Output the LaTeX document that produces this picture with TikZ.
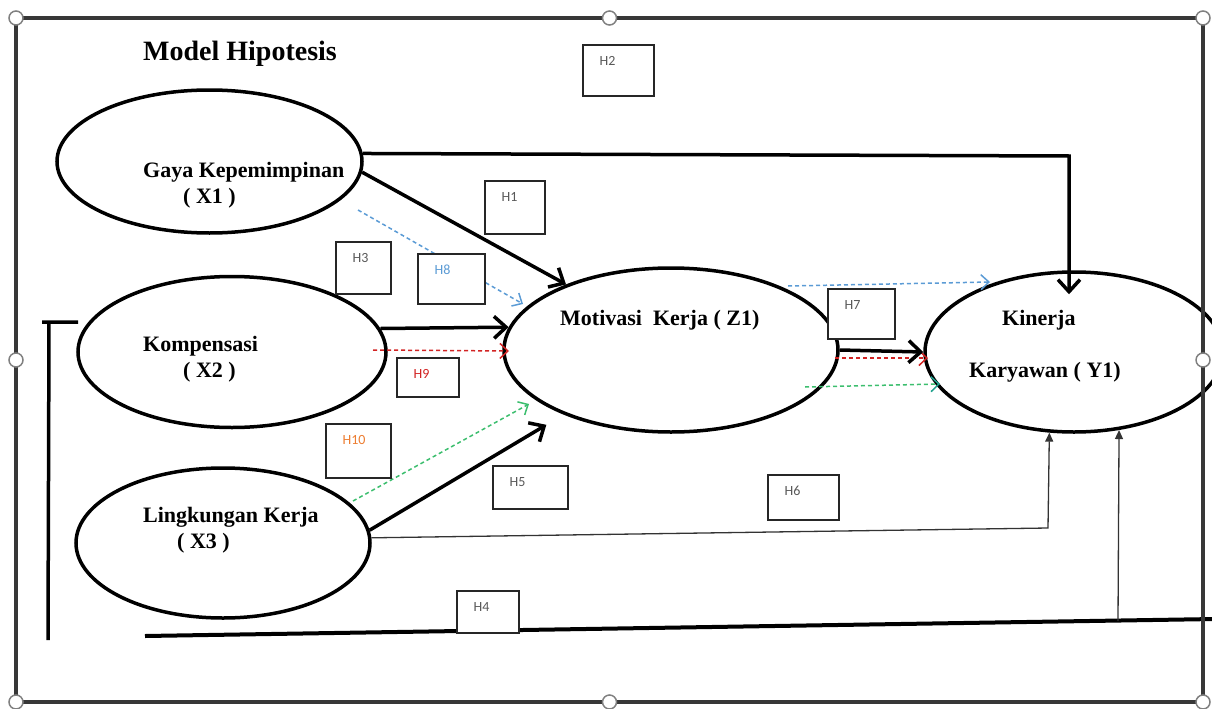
\documentclass[tikz,border=0pt]{standalone}
\usepackage{fontspec}
\setmainfont{Liberation Serif}
\newfontfamily\hypfont{Carlito}
\usetikzlibrary{positioning,calc,shapes.geometric,arrows.meta}
\definecolor{hypgray}{RGB}{89,89,89}
\definecolor{hypblue}{RGB}{91,155,213}
\definecolor{hypred}{RGB}{210,35,35}
\definecolor{hypgreen}{RGB}{60,190,110}
\definecolor{hypteal}{RGB}{30,160,140}
\definecolor{hyporange}{RGB}{237,125,49}
\definecolor{selgray}{RGB}{55,55,55}

\begin{document}
\begin{tikzpicture}[
  x=1pt, y=-1pt,
  latent/.style={draw, ellipse, line width=3.5pt, inner sep=0pt},
  vartext/.style={font=\fontsize{22}{26}\selectfont\bfseries, inner sep=0pt, anchor=base west},
  hyp/.style={draw=black!85, fill=white, line width=1.3pt, inner sep=0pt},
  hyptext/.style={font=\hypfont\fontsize{14}{16}\selectfont, text=hypgray, inner sep=0pt, anchor=base west},
  bold arrow/.style={line width=3.5pt, -{Straight Barb[length=12pt,width=22pt]}},
  thin arrow/.style={line width=1.3pt, draw=black!80, -{Triangle[length=9pt,width=8pt]}},
  dash arrow/.style={line width=1.5pt, dash pattern=on 4pt off 3pt, -{Straight Barb[length=8pt,width=15pt]}},
  selframe/.style={draw=selgray, line width=3.5pt, inner sep=0pt, outer sep=0pt},
  handle/.style={circle, draw=gray, fill=white, line width=1.5pt, minimum size=14pt, inner sep=0pt}
]
\useasboundingbox (0,0) rectangle (1212,709);

% variables
\node[latent, minimum width=305pt, minimum height=143pt] (x1) at (209.5,161.5) {};
\node[latent, minimum width=308pt, minimum height=151pt] (x2) at (232,352) {};
\node[latent, minimum width=294pt, minimum height=150pt] (x3) at (223,543) {};
\node[latent, minimum width=334pt, minimum height=164pt] (z1) at (671,350) {};
\node[latent, minimum width=298pt, minimum height=160pt] (y1) at (1074,352) {};

\node[vartext, font=\fontsize{28}{32}\selectfont\bfseries] (title) at (143,60) {Model Hipotesis};
\node[vartext] (x1name) at (143,177) {Gaya Kepemimpinan};
\node[vartext] (x1code) at (183,203) {( X1 )};
\node[vartext] (x2name) at (143,351) {Kompensasi};
\node[vartext] (x2code) at (183,377) {( X2 )};
\node[vartext] (x3name) at (143,522) {Lingkungan Kerja};
\node[vartext] (x3code) at (177,548) {( X3 )};
\node[vartext] (z1name) at (560,325) {Motivasi\ \ Kerja ( Z1)};
\node[vartext] (y1name) at (1002,325) {Kinerja};
\node[vartext] (y1code) at (969,377) {Karyawan ( Y1)};

% mediated paths (dashed)
\coordinate (blueA) at (358,210);
\coordinate (blueB) at (523,304);
\coordinate (redA) at (373,350);
\coordinate (redB) at (509,351);
\coordinate (greenA) at (353,501);
\coordinate (greenB) at (529,404);
\coordinate (blueC) at (788,286);
\coordinate (blueD) at (990,282);
\coordinate (redC) at (835,358);
\coordinate (redD) at (928,358);
\coordinate (tealA) at (805,387);
\coordinate (tealB) at (940,384);
\draw[dash arrow, hypblue] (blueA) -- (blueB);
\draw[dash arrow, hypred] (redA) -- (redB);
\draw[dash arrow, hypgreen] (greenA) -- (greenB);
\draw[dash arrow, hypblue] (blueC) -- (blueD);
\draw[dash arrow, hypred] (redC) -- (redD);
\draw[dash arrow, hypgreen, -{Straight Barb[length=8pt,width=15pt,color=hypteal]}] (tealA) -- (tealB);

% direct paths
\coordinate (topbend) at (1069,156);
\draw[bold arrow] (x1.3) -- (topbend) -- ($(topbend |- y1.north)+(0,24)$);
\draw[bold arrow] (x1.-4) -- (z1.148);
\draw[bold arrow] (x2.9) -- (z1.172);
\draw[bold arrow, shorten >=20pt] (x3.5) -- (z1.211);
\draw[bold arrow] (z1.east) -- (y1.west);

\coordinate (lowbend) at (1048,528);
\draw[thin arrow] (x3.2) -- (lowbend) -- (y1.253);

\coordinate (baseL) at (145,636);
\coordinate (baseR) at (1215,619);
\coordinate (baseUp) at (1118,621);
\draw[line width=4pt] (baseL) -- (baseR);
\draw[thin arrow] (baseUp) -- (y1.-60);

\coordinate (brkB) at (48,640);
\coordinate (brkT) at (49,322);
\coordinate (brkL) at (42,322);
\coordinate (brkR) at (78,322);
\draw[line width=3.5pt] (brkB) -- (brkT) (brkL) -- (brkR);

% hypothesis boxes
\node[hyp, minimum width=71pt, minimum height=51pt] (h2) at (618.5,70.5) {};
\node[hyp, minimum width=60pt, minimum height=53pt] (h1) at (515,207.5) {};
\node[hyp, minimum width=55pt, minimum height=52pt] (h3) at (363.5,268) {};
\node[hyp, minimum width=67pt, minimum height=50pt] (h8) at (451.5,279) {};
\node[hyp, minimum width=62pt, minimum height=39pt] (h9) at (428,377.5) {};
\node[hyp, minimum width=65pt, minimum height=54pt] (h10) at (358.5,451) {};
\node[hyp, minimum width=75pt, minimum height=43pt] (h5) at (530.5,487.5) {};
\node[hyp, minimum width=71pt, minimum height=45pt] (h6) at (803.5,497.5) {};
\node[hyp, minimum width=67pt, minimum height=50pt] (h7) at (861.5,314) {};
\node[hyp, minimum width=62pt, minimum height=42pt] (h4) at (488,612) {};

\node[hyptext] (h2text) at ([shift={(17,21)}]h2.north west) {H2};
\node[hyptext] (h1text) at ([shift={(17,21)}]h1.north west) {H1};
\node[hyptext] (h3text) at ([shift={(17,21)}]h3.north west) {H3};
\node[hyptext, text=hypblue] (h8text) at ([shift={(17,21)}]h8.north west) {H8};
\node[hyptext, text=hypred] (h9text) at ([shift={(17,21)}]h9.north west) {H9};
\node[hyptext, text=hyporange] (h10text) at ([shift={(17,21)}]h10.north west) {H10};
\node[hyptext] (h5text) at ([shift={(17,21)}]h5.north west) {H5};
\node[hyptext] (h6text) at ([shift={(17,21)}]h6.north west) {H6};
\node[hyptext] (h7text) at ([shift={(17,21)}]h7.north west) {H7};
\node[hyptext] (h4text) at ([shift={(17,21)}]h4.north west) {H4};

% selection frame
\node[selframe, minimum width=1187pt, minimum height=684pt] (sel) at (609.5,360) {};
\foreach \a/\n in {north west/nw, north/n, north east/ne, east/e, south east/se, south/s, south west/sw, west/w}
  \node[handle] (grip-\n) at (sel.\a) {};
\end{tikzpicture}
\end{document}
